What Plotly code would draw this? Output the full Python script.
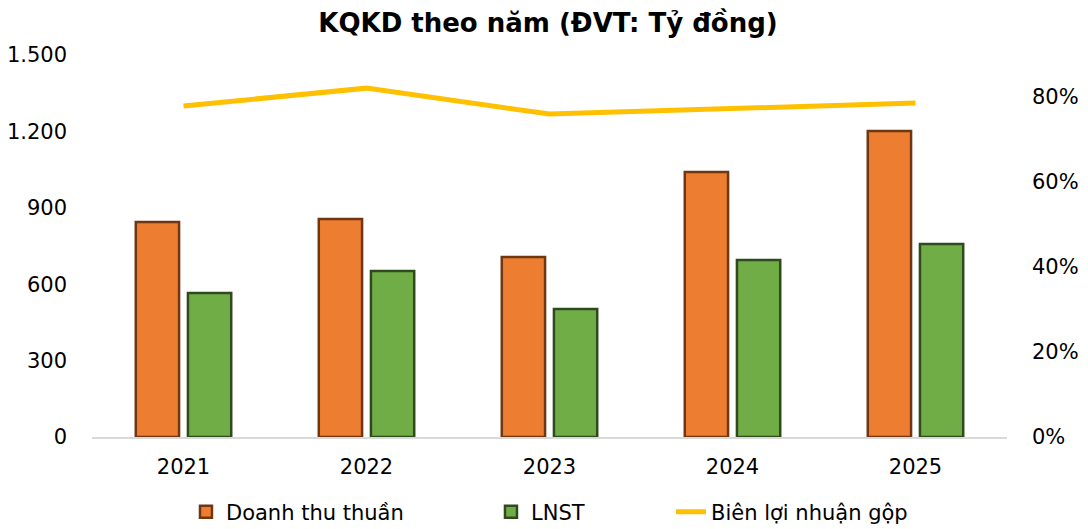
import plotly.graph_objects as go

years = ["2021", "2022", "2023", "2024", "2025"]
doanh_thu = [844, 856, 707, 1041, 1202]
lnst = [565, 652, 503, 695, 758]
bien_ln_gop = [0.779, 0.821, 0.760, 0.774, 0.786]

FONT = "DejaVu Sans"
W, H = 1080, 521  # page body has an 8px margin

fig = go.Figure()
fig.add_trace(go.Bar(
    x=years, y=doanh_thu, name="Doanh thu thuần", legend="legend",
    marker=dict(color="#ED7D31", line=dict(color="#6E3611", width=2.5)),
))
fig.add_trace(go.Bar(
    x=years, y=lnst, name="LNST", legend="legend2",
    marker=dict(color="#70AD47", line=dict(color="#2F4A1C", width=2.5)),
))
fig.add_trace(go.Scatter(
    x=years, y=bien_ln_gop, name="Biên lợi nhuận gộp", yaxis="y2", legend="legend3",
    mode="lines", line=dict(color="#FFC000", width=5),
))

leg_common = dict(orientation="h", xref="container", yref="container",
                  xanchor="left", yanchor="middle", y=0.0326,
                  font=dict(family=FONT, size=21, color="#000000"),
                  bgcolor="rgba(0,0,0,0)", borderwidth=0)

fig.update_layout(
    width=W, height=H,
    paper_bgcolor="white", plot_bgcolor="white",
    separators=",.",
    font=dict(family=FONT, size=21, color="#000000"),
    title=dict(text="<b>KQKD theo năm (ĐVT: Tỷ đồng)</b>", x=0.5, xanchor="center",
               xref="container", yref="container",
               y=0.971, yanchor="middle", font=dict(family=FONT, size=26, color="#000000")),
    margin=dict(l=84, r=81, t=47, b=92, autoexpand=False),
    barmode="group", bargap=0.43, bargroupgap=0.17,
    showlegend=True,
    legend=dict(leg_common, x=0.1648),
    legend2=dict(leg_common, x=0.4472),
    legend3=dict(leg_common, x=0.6139),
    xaxis=dict(showline=True, linecolor="#D9D9D9", linewidth=2, ticks="",
               ticklabelstandoff=10, tickfont=dict(size=21), showgrid=False,
               zeroline=False, automargin=False),
    yaxis=dict(range=[0, 1500], dtick=300, tickformat=",d", showgrid=False,
               zeroline=False, showline=False, ticks="", ticklabelstandoff=24,
               tickfont=dict(size=21), automargin=False),
    yaxis2=dict(range=[0, 0.899], dtick=0.2, tickformat=".0%", overlaying="y",
                side="right", showgrid=False, zeroline=False, showline=False,
                ticks="", ticklabelstandoff=24, tickfont=dict(size=21),
                automargin=False),
)

fig.write_html("out.html")
